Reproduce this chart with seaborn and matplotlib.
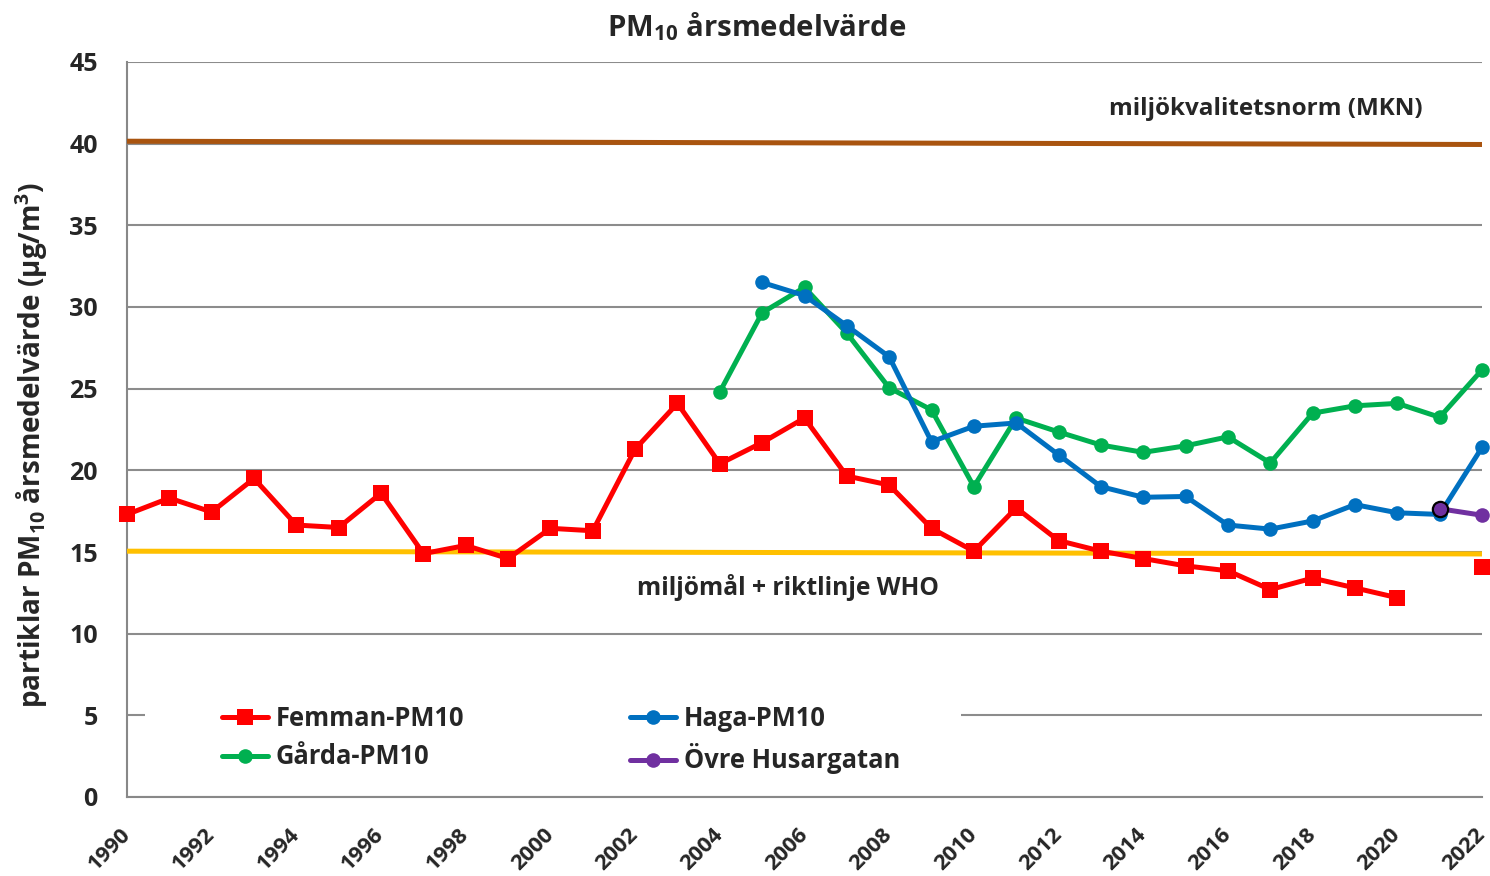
import numpy as np
import pandas as pd
import matplotlib
matplotlib.use("Agg")
import matplotlib.pyplot as plt
from matplotlib.lines import Line2D
from matplotlib.patches import Rectangle
import seaborn as sns

years = list(range(1990, 2023))

femman = [17.3, 18.3, 17.45, 19.5, 16.65, 16.5, 18.6, 14.9, 15.4, 14.6,
          16.45, 16.3, 21.3, 24.1, 20.4, 21.7, 23.2, 19.65, 19.1, 16.45,
          15.05, 17.7, 15.7, 15.05, 14.6, 14.15, 13.85, 12.7, 13.4, 12.8,
          12.2, np.nan, 14.1]
haga_years = list(range(2005, 2023))
haga = [31.5, 30.7, 28.85, 26.95, 21.75, 22.7, 22.9, 20.95, 19.0, 18.35,
        18.4, 16.65, 16.4, 16.9, 17.9, 17.4, 17.3, 21.4]
garda_years = list(range(2004, 2023))
garda = [24.8, 29.65, 31.2, 28.4, 25.05, 23.7, 19.0, 23.2, 22.35, 21.55,
         21.1, 21.5, 22.05, 20.45, 23.5, 23.95, 24.1, 23.25, 26.15]
ovre_years = [2021, 2022]
ovre = [17.65, 17.25]

mkn_years = [1990, 2022]
mkn = [40.15, 39.95]
who_years = [1990, 2022]
who = [15.05, 14.88]

labels = ["Femman-PM10", "Haga-PM10", "Gårda-PM10", "Övre Husargatan"]
xtick_labels = [str(y) if y % 2 == 0 else "" for y in years]

RED = "#FF0000"
BLUE = "#0070C0"
GREEN = "#00B050"
PURPLE = "#7030A0"
BROWN = "#A9540F"
YELLOW = "#FFC000"

FONT = "Open Sans"
sns.set_style("white")
plt.rcParams['font.family'] = [FONT, 'DejaVu Sans']
plt.rcParams['font.weight'] = 'bold'
plt.rcParams['mathtext.fontset'] = 'custom'
plt.rcParams['mathtext.rm'] = FONT + ':bold'
plt.rcParams['mathtext.bf'] = FONT + ':bold'

fig = plt.figure(figsize=(14.9, 8.76), dpi=100)
ax = fig.add_axes([127/1490, 79/876, 1355/1490, 735/876])

# reference lines
sns.lineplot(x=mkn_years, y=mkn, ax=ax, color=BROWN, linewidth=3.6, zorder=3)
sns.lineplot(x=who_years, y=who, ax=ax, color=YELLOW, linewidth=3.6, zorder=3)

def draw(xs, ys, color, marker, ms, z):
    df = pd.DataFrame({"x": xs, "y": ys})
    seg = df["y"].isna().cumsum()
    for _, part in df.dropna().groupby(seg[df["y"].notna()]):
        sns.lineplot(data=part, x="x", y="y", ax=ax, color=color, linewidth=3.6,
                     marker=marker, markersize=ms, markeredgewidth=0,
                     markeredgecolor=color, clip_on=False, zorder=z)

draw(years, femman, RED, "s", 12, 5)
draw(garda_years, garda, GREEN, "o", 10.5, 6)
draw(haga_years, haga, BLUE, "o", 10.5, 7)
sns.lineplot(x=ovre_years, y=ovre, ax=ax, color=PURPLE, linewidth=3.6,
             marker="o", markersize=10.5, markeredgewidth=0, clip_on=False, zorder=8)
ax.plot(ovre_years[:1], ovre[:1], marker="o", markersize=11, color=PURPLE,
        markeredgecolor="black", markeredgewidth=1.6, linestyle="none",
        clip_on=False, zorder=9)

# white backing behind the legend (hides the 5-gridline there)
ax.add_patch(Rectangle((0.0133, 0.0095), 0.602, 0.136, transform=ax.transAxes,
                       facecolor="white", edgecolor="none", zorder=1))

ax.set_xlim(1990, 2022)
ax.set_ylim(0, 45)
ax.set_yticks(range(0, 46, 5))
ax.set_xticks(years)
ax.set_xticklabels(xtick_labels)
ax.tick_params(axis="x", direction="out", length=7, width=1.2, color="#888888",
               pad=18, labelsize=15.8, labelrotation=45)
ax.tick_params(axis="y", direction="out", length=7, width=1.2, color="#888888",
               pad=14, labelsize=18)
for lab in ax.get_xticklabels():
    lab.set_ha("right")
    lab.set_va("center")
    lab.set_rotation_mode("anchor")
    lab.set_fontweight("bold")
for lab in ax.get_yticklabels():
    lab.set_fontweight("bold")
ax.grid(axis="y", color="#8c8c8c", linewidth=1.5, zorder=0)
ax.set_axisbelow(True)
for s in ["top", "right"]:
    ax.spines[s].set_visible(False)
for s in ["left", "bottom"]:
    ax.spines[s].set_color("#888888")
    ax.spines[s].set_linewidth(1.5)

ax.set_xlabel("")
ax.set_ylabel("partiklar PM$_{10}$ årsmedelvärde (µg/m$^{3}$)",
              fontsize=20.1, fontweight="bold")
ax.yaxis.set_label_coords(-0.057, 0.479)
fig.text(757/1490, 1 - 27/876, "PM$_{10}$ årsmedelvärde", ha="center",
         va="center", fontsize=21.2, fontweight="bold")

ax.text(2016.9, 42.1, "miljökvalitetsnorm (MKN)", ha="center", va="center",
        fontsize=17.5, fontweight="bold")
ax.text(2005.6, 12.8, "miljömål + riktlinje WHO", ha="center", va="center",
        fontsize=17.7, fontweight="bold")

def h(color, marker, ms):
    return Line2D([], [], color=color, lw=3.6, marker=marker, ms=ms, mew=0)

common = dict(loc="upper left", frameon=False, prop={"size": 18.4, "weight": "bold"},
              handlelength=1.8, handletextpad=0.3, labelspacing=0.45,
              borderpad=0, borderaxespad=0)
leg1 = fig.legend([h(RED, "s", 12), h(GREEN, "o", 10.5)], [labels[0], labels[2]],
                  bbox_to_anchor=(222/1490, 1 - 705/876), **common)
leg2 = fig.legend([h(BLUE, "o", 10.5), h(PURPLE, "o", 10.5)], [labels[1], labels[3]],
                  bbox_to_anchor=(630/1490, 1 - 705/876), **common)

fig.savefig("out.png", dpi=100)
